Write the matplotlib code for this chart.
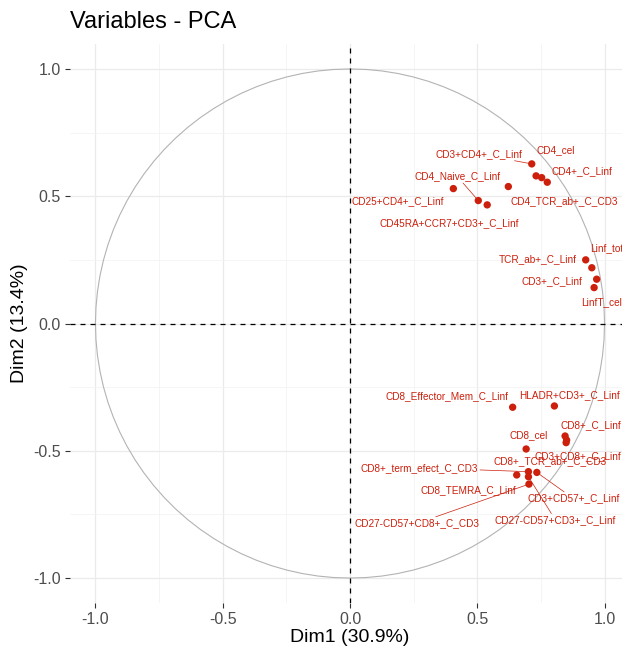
import numpy as np
import matplotlib
matplotlib.use("Agg")
import matplotlib.pyplot as plt

plt.rcParams['font.family'] = ['Liberation Sans', 'DejaVu Sans']

# Variable coordinates on the first two principal components
variables = [
    "CD3+CD4+_C_Linf", "CD4_cel", "CD4_TCR_ab+_C_CD3", "CD4+_C_Linf",
    "CD4_eff_C_Linf", "CD25+CD4+_C_Linf", "CD4_Naive_C_Linf", "CD45RA+CCR7+CD3+_C_Linf",
    "TCR_ab+_C_Linf", "Linf_tot_cel", "CD3+_C_Linf", "LinfT_cel",
    "CD8_Effector_Mem_C_Linf", "HLADR+CD3+_C_Linf", "CD8+_C_Linf", "CD3+CD8+_C_Linf",
    "CD8+_TCR_ab+_C_CD3", "CD8_cel", "CD8_TEMRA_C_Linf", "CD8+_term_efect_C_CD3",
    "CD3+CD57+_C_Linf", "CD27-CD57+CD3+_C_Linf", "CD27-CD57+CD8+_C_CD3",
]
dim1 = [0.714, 0.731, 0.753, 0.775, 0.622, 0.406, 0.504, 0.539,
        0.926, 0.950, 0.969, 0.959,
        0.639, 0.803, 0.845, 0.851, 0.849, 0.692,
        0.655, 0.701, 0.734, 0.701, 0.703]
dim2 = [0.627, 0.580, 0.573, 0.555, 0.538, 0.530, 0.483, 0.466,
        0.250, 0.219, 0.174, 0.141,
        -0.329, -0.324, -0.442, -0.458, -0.468, -0.493,
        -0.595, -0.582, -0.585, -0.602, -0.631]
# variables whose text label is shown (repel dropped the rest)
shown = [True, True, True, True, False, True, True, True,
         True, True, True, True,
         True, True, True, True, True, True,
         True, True, True, True, True]

pct1, pct2 = 30.9, 13.4

# Repelled label placement (data units) and whether a leader segment is drawn
label_pos = {
    "CD3+CD4+_C_Linf": (0.508, 0.665, True),
    "CD4_cel": (0.808, 0.682, False),
    "CD4_TCR_ab+_C_CD3": (0.841, 0.481, False),
    "CD4+_C_Linf": (0.913, 0.599, False),
    "CD25+CD4+_C_Linf": (0.189, 0.481, False),
    "CD4_Naive_C_Linf": (0.422, 0.577, True),
    "CD45RA+CCR7+CD3+_C_Linf": (0.390, 0.396, False),
    "TCR_ab+_C_Linf": (0.738, 0.252, False),
    "Linf_tot_cel": (1.045, 0.298, False),
    "CD3+_C_Linf": (0.794, 0.168, False),
    "LinfT_cel": (0.988, 0.083, False),
    "CD8_Effector_Mem_C_Linf": (0.380, -0.285, False),
    "HLADR+CD3+_C_Linf": (0.862, -0.281, False),
    "CD8+_C_Linf": (0.945, -0.399, False),
    "CD8_cel": (0.703, -0.438, False),
    "CD3+CD8+_C_Linf": (0.894, -0.521, False),
    "CD8+_TCR_ab+_C_CD3": (0.785, -0.540, False),
    "CD8+_term_efect_C_CD3": (0.274, -0.567, True),
    "CD8_TEMRA_C_Linf": (0.465, -0.654, False),
    "CD3+CD57+_C_Linf": (0.877, -0.687, True),
    "CD27-CD57+CD3+_C_Linf": (0.807, -0.772, True),
    "CD27-CD57+CD8+_C_CD3": (0.264, -0.785, True),
}

W, H = 622, 656
fig = plt.figure(figsize=(W / 100, H / 100), dpi=100)
ax = fig.add_axes([70 / W, 53 / H, 560 / W, 559 / H])
ax.set_xlim(-1.1, 1.1)
ax.set_ylim(-1.098, 1.098)

major = [-1.0, -0.5, 0.0, 0.5, 1.0]
minor = [-0.75, -0.25, 0.25, 0.75]
ax.set_xticks(major)
ax.set_yticks(major)
ax.set_xticks(minor, minor=True)
ax.set_yticks(minor, minor=True)
ax.set_xticklabels([f"{v:.1f}" for v in major])
ax.set_yticklabels([f"{v:.1f}" for v in major])
ax.grid(True, which='major', color='#EBEBEB', lw=0.9)
ax.grid(True, which='minor', color='#F2F2F2', lw=0.5)
ax.set_axisbelow(True)
for s in ax.spines.values():
    s.set_visible(False)
ax.tick_params(which='major', length=3.5, width=0.8, color='#333333',
               labelsize=11.5, labelcolor='#4D4D4D', pad=3)
ax.tick_params(which='minor', length=0)

# correlation circle
t = np.linspace(0, 2 * np.pi, 101)
ax.plot(np.cos(t), np.sin(t), color='#B3B3B3', lw=0.8, zorder=2)
ax.axhline(0, color='black', lw=0.9, ls=(0, (4, 4)), zorder=2)
ax.axvline(0, color='black', lw=0.9, ls=(0, (4, 4)), zorder=2)

red = '#CC1F0C'
ax.scatter(dim1, dim2, s=28, color=red, edgecolors='none', zorder=4)

fs = 7.2
for name, x, y, show in zip(variables, dim1, dim2, shown):
    if not show:
        continue
    lx, ly, seg = label_pos[name]
    if seg:
        ax.annotate(name, xy=(x, y), xytext=(lx, ly), ha='center', va='center',
                    fontsize=fs, color=red, annotation_clip=False,
                    bbox=dict(boxstyle='square,pad=0.15', fc='none', ec='none'),
                    arrowprops=dict(arrowstyle='-', color=red, lw=0.5,
                                    shrinkA=0, shrinkB=2), zorder=5)
    else:
        ax.text(lx, ly, name, ha='center', va='center', fontsize=fs,
                color=red, zorder=5)

ax.set_xlabel(f"Dim1 ({pct1}%)", fontsize=14)
ax.set_ylabel(f"Dim2 ({pct2}%)", fontsize=14)
ax.xaxis.set_label_coords(0.5, -(637 - 603) / 559, transform=ax.transAxes)
ax.xaxis.label.set_va('center')
ax.yaxis.set_label_coords(-(70 - 20) / 560, 0.5)
ax.yaxis.label.set_va('center')

fig.text(70 / W, 1 - 28.3 / H, "Variables - PCA", fontsize=17, ha='left',
         va='baseline', color='black')

fig.savefig("out.png", dpi=100)
